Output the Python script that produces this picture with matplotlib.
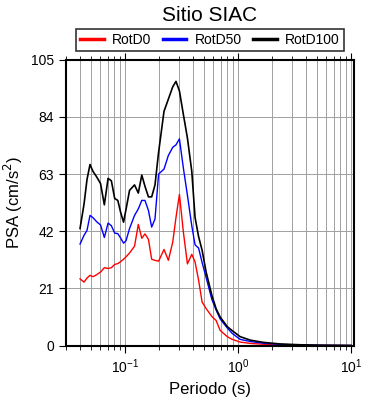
import numpy as np
from matplotlib import pyplot as plt
from matplotlib.ticker import LogLocator, FixedLocator, NullFormatter

plt.rcParams['font.family'] = ['Liberation Sans', 'DejaVu Sans']

#%% Donnees
periodo = [0.04, 0.0434, 0.0461, 0.049, 0.052, 0.056, 0.0607, 0.0656, 0.0708, 0.0757,
           0.081, 0.0863, 0.0913, 0.097, 0.102, 0.1096, 0.1213, 0.131, 0.1406, 0.150,
           0.161, 0.172, 0.184, 0.198, 0.221, 0.2415, 0.264, 0.282, 0.3025, 0.328,
           0.356, 0.389, 0.416, 0.447, 0.48, 0.521, 0.585, 0.639, 0.693, 0.80,
           0.885, 1.04, 1.28, 1.66, 2.35, 3.54, 5.32, 10.0]

rotd100 = [43, 52, 61, 66.5, 64, 62, 59.5, 51.7, 61.4, 60.5,
           54, 53.3, 49, 45.3, 50, 57, 59, 56, 62.6, 58.5,
           54.6, 54.6, 59, 71, 86, 90.5, 95, 97, 93.5, 84.8,
           76.2, 64, 47, 40, 35, 27, 18.5, 13.5, 10.5, 7,
           5.5, 3.3, 2.0, 1.2, 0.6, 0.3, 0.15, 0.05]

rotd50 = [37.3, 40.5, 42.3, 47.8, 47, 45.5, 44.3, 39.7, 45, 44,
          41.3, 41.1, 39.5, 37.6, 38.5, 43, 47.8, 50.2, 53.3, 53.3,
          49.6, 43.5, 46.5, 63, 64.8, 69.8, 72.8, 73.7, 75.9, 65.1,
          55.2, 44, 37, 35.8, 30.5, 25, 17, 13, 9.8, 6.5,
          4.5, 2.3, 1.5, 0.9, 0.45, 0.2, 0.1, 0.03]

rotd0 = [24.5, 23.3, 24.8, 25.8, 25.3, 26, 27, 28.6, 28.3, 28.6,
         29.8, 30.1, 30.8, 31.7, 32.6, 34, 36.5, 44.5, 39.4, 41,
         39, 31.7, 31.3, 31, 35.3, 31.3, 38, 47, 55.5, 41.6,
         30, 33.5, 30.7, 24, 16, 13.6, 10.7, 9.2, 5.6, 3.3,
         2.3, 1.3, 0.8, 0.5, 0.25, 0.12, 0.06, 0.02]

yticks = [0, 21, 42, 63, 84, 105]

#%% Graphique
fig = plt.figure(figsize=(3.9, 4.0), dpi=100)
ax = fig.add_axes([0.169, 0.136, 0.739, 0.715])

ax.plot(periodo, rotd0, color='red', lw=1.0, label='RotD0')
ax.plot(periodo, rotd50, color='blue', lw=1.0, label='RotD50')
ax.plot(periodo, rotd100, color='black', lw=1.2, label='RotD100')

ax.set_xscale('log')
ax.set_xlim(0.03, 10.6)
ax.set_ylim(0, 105)
ax.yaxis.set_major_locator(FixedLocator(yticks))
ax.xaxis.set_major_locator(LogLocator(base=10, numticks=10))
ax.xaxis.set_minor_locator(LogLocator(base=10, subs=np.arange(2, 10), numticks=10))
ax.xaxis.set_minor_formatter(NullFormatter())

ax.grid(True, which='both', axis='x', color='#a0a0a0', lw=0.7)
ax.grid(True, which='major', axis='y', color='#a0a0a0', lw=0.7)

for s in ax.spines.values():
    s.set_linewidth(1.5)
ax.tick_params(axis='both', which='major', direction='out', length=5, width=0.8,
               labelsize=10, top=True)
ax.tick_params(axis='x', which='minor', direction='out', length=3, width=0.6, top=True)

ax.set_xlabel('Periodo (s)', fontsize=12)
ax.set_ylabel('PSA (cm/s$^2$)', fontsize=12)
ax.set_title('Sitio SIAC', fontsize=15, pad=28)

leg = ax.legend(loc='lower center', bbox_to_anchor=(0.5, 1.03), ncol=3,
                fontsize=10, frameon=True, fancybox=False, edgecolor='black',
                handlelength=1.7, handletextpad=0.6, columnspacing=0.8,
                borderpad=0.3, borderaxespad=0)
leg.get_frame().set_linewidth(1.2)
for h in leg.get_lines():
    h.set_linewidth(2.5)

plt.savefig('out.png', dpi=100)
